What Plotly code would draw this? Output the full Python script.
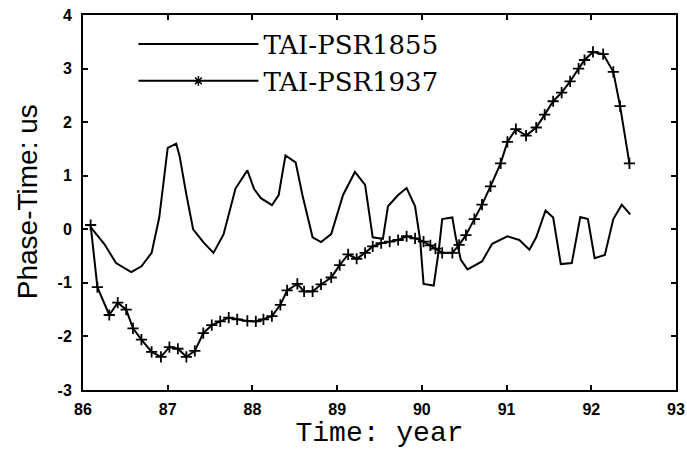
import plotly.graph_objects as go

# TAI-PSR1855 (plain line)
psr1855_year = [86.09, 86.25, 86.39, 86.57, 86.69, 86.81, 86.90, 87.00, 87.10, 87.14,
                87.22, 87.30, 87.42, 87.54, 87.66, 87.80, 87.94, 88.02, 88.10, 88.23,
                88.31, 88.39, 88.51, 88.59, 88.71, 88.81, 88.93, 89.07, 89.21, 89.33,
                89.42, 89.54, 89.60, 89.72, 89.82, 89.92, 89.98, 90.02, 90.14, 90.20,
                90.24, 90.36, 90.40, 90.46, 90.54, 90.71, 90.83, 91.01, 91.15, 91.27,
                91.35, 91.46, 91.55, 91.64, 91.77, 91.87, 91.96, 92.04, 92.16, 92.26,
                92.36, 92.46]
psr1855_val = [0.04, -0.27, -0.63, -0.80, -0.69, -0.44, 0.22, 1.52, 1.60, 1.37,
               0.65, 0.00, -0.24, -0.44, -0.09, 0.76, 1.10, 0.75, 0.58, 0.45,
               0.64, 1.38, 1.25, 0.64, -0.15, -0.24, -0.09, 0.64, 1.07, 0.83,
               -0.15, -0.18, 0.43, 0.64, 0.77, 0.43, -0.20, -1.02, -1.05, -0.39,
               0.19, 0.22, -0.15, -0.57, -0.75, -0.60, -0.27, -0.13, -0.20, -0.38,
               -0.15, 0.35, 0.22, -0.65, -0.63, 0.23, 0.19, -0.54, -0.48, 0.19,
               0.46, 0.28]

# TAI-PSR1937 (line with markers)
psr1937_year = [86.09, 86.17, 86.31, 86.41, 86.51, 86.59, 86.69, 86.81, 86.92, 87.02,
                87.12, 87.22, 87.32, 87.42, 87.52, 87.62, 87.72, 87.82, 87.94, 88.04,
                88.13, 88.23, 88.33, 88.41, 88.53, 88.61, 88.71, 88.81, 88.93, 89.03,
                89.13, 89.23, 89.33, 89.42, 89.52, 89.62, 89.72, 89.82, 89.92, 90.02,
                90.10, 90.16, 90.24, 90.36, 90.44, 90.52, 90.62, 90.71, 90.81, 90.93,
                91.01, 91.11, 91.23, 91.35, 91.45, 91.55, 91.65, 91.75, 91.85, 91.92,
                92.02, 92.14, 92.26, 92.34, 92.45]
psr1937_val = [0.08, -1.08, -1.60, -1.37, -1.50, -1.85, -2.06, -2.29, -2.38, -2.20,
               -2.23, -2.38, -2.27, -1.94, -1.79, -1.72, -1.65, -1.68, -1.71, -1.72,
               -1.68, -1.62, -1.41, -1.14, -1.02, -1.16, -1.16, -1.03, -0.90, -0.67,
               -0.47, -0.55, -0.44, -0.32, -0.26, -0.23, -0.20, -0.13, -0.17, -0.23,
               -0.30, -0.36, -0.44, -0.44, -0.29, -0.11, 0.19, 0.46, 0.80, 1.23,
               1.63, 1.87, 1.75, 1.90, 2.14, 2.39, 2.55, 2.76, 3.00, 3.16,
               3.31, 3.27, 2.94, 2.30, 1.23]

x_ticks = [86, 87, 88, 89, 90, 91, 92, 93]
y_ticks = [-3, -2, -1, 0, 1, 2, 3, 4]

fig = go.Figure()
fig.add_trace(go.Scatter(x=psr1855_year, y=psr1855_val, mode="lines",
                         name="TAI-PSR1855",
                         line=dict(color="black", width=2)))
fig.add_trace(go.Scatter(x=psr1937_year, y=psr1937_val, mode="lines+markers",
                         name="TAI-PSR1937", showlegend=False,
                         line=dict(color="black", width=2),
                         marker=dict(symbol="cross-thin", size=8,
                                     line=dict(color="black", width=1.8))))
# legend entry drawn with the asterisk symbol as in the original key
fig.add_trace(go.Scatter(x=[None], y=[None], mode="lines+markers",
                         name="TAI-PSR1937",
                         line=dict(color="black", width=2),
                         marker=dict(symbol="asterisk", size=8,
                                     line=dict(color="black", width=1.5))))

axis_common = dict(showline=True, linecolor="black", linewidth=2, mirror="ticks",
                   ticks="inside", ticklen=5, tickwidth=2, tickcolor="black",
                   showgrid=False, zeroline=False, automargin=False,
                   tickfont=dict(family="Liberation Sans", size=16, color="black",
                                 weight="bold"))

fig.update_xaxes(range=[86, 93], tickvals=x_ticks, ticktext=[str(v) for v in x_ticks],
                 ticklabelstandoff=4,
                 title=dict(text="Time: year", standoff=4,
                            font=dict(family="Liberation Mono", size=28, color="black")),
                 **axis_common)
fig.update_yaxes(range=[-3, 4], tickvals=y_ticks, ticktext=[str(v) for v in y_ticks],
                 ticklabelstandoff=6,
                 **axis_common)

fig.add_annotation(text="Phase-Time: us", xref="paper", yref="paper",
                   x=-0.093, y=0.503, textangle=-90, showarrow=False,
                   xanchor="center", yanchor="middle",
                   font=dict(family="Liberation Sans Narrow, Liberation Sans", size=28,
                             color="black"))

fig.update_layout(
    width=687, height=450,
    margin=dict(l=83, r=11, t=15, b=60),
    paper_bgcolor="white", plot_bgcolor="white",
    showlegend=True,
    legend=dict(x=0.085, y=0.985, xanchor="left", yanchor="top",
                bgcolor="rgba(0,0,0,0)", borderwidth=0,
                itemwidth=120, tracegroupgap=0,
                font=dict(family="DejaVu Serif", size=26, color="black")),
)

fig.write_html("out.html", config={"displayModeBar": False},
               post_script="document.body.style.margin='0';document.body.style.overflow='hidden';")
